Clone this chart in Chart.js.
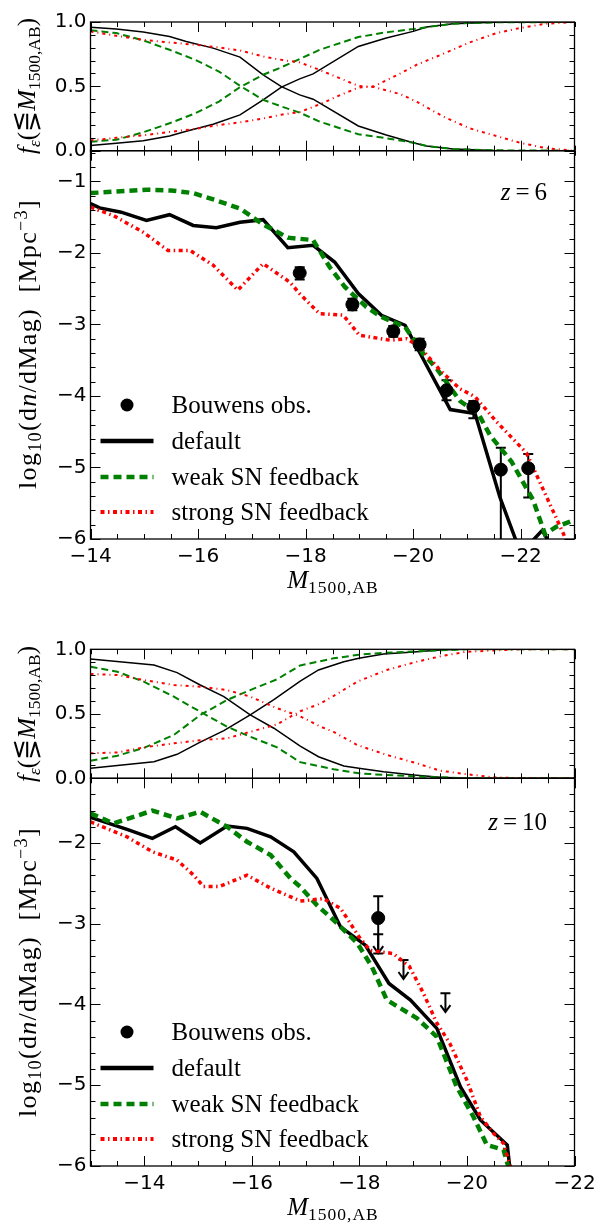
<!DOCTYPE html>
<html><head><meta charset="utf-8">
<script src="https://cdn.jsdelivr.net/npm/chart.js@4.4.0/dist/chart.umd.min.js"></script>
<style>
body{margin:0;background:#fff;width:602px;height:1224px;position:relative;overflow:hidden}
canvas{position:absolute;left:0}
.lbl{position:absolute;font-family:'Liberation Serif',serif;font-size:25px;white-space:nowrap;color:#000;line-height:1}
.rot{transform:translate(-50%,-50%) rotate(-90deg)}
.lbl sub{font-size:70%;vertical-align:-0.3em;line-height:0}
.lbl sup{font-size:70%;vertical-align:0.5em;line-height:0}
.wide{font-size:26px;letter-spacing:1.3px}
.xl sub{letter-spacing:1px}
</style></head><body>
<canvas id="p1" width="602" height="170" style="top:0px"></canvas>
<canvas id="p2" width="602" height="470" style="top:130px"></canvas>
<canvas id="p3" width="602" height="170" style="top:630px"></canvas>
<canvas id="p4" width="602" height="466" style="top:758px"></canvas>

<div class="lbl rot" style="left:26px;top:86px"><i>f</i><sub><i>ε</i></sub>(⋚<i>M</i><sub>1500,AB</sub>)</div>
<div class="lbl rot wide" style="left:28px;top:344px">log<sub>10</sub>(d<i>n</i>/dMag)&nbsp;&nbsp;[Mpc<sup>−3</sup>]</div>
<div class="lbl xl" style="left:333px;top:567px;transform:translateX(-50%)"><i>M</i><sub>1500,AB</sub></div>
<div class="lbl" style="right:55px;top:179px"><i>z</i>&thinsp;=&thinsp;6</div>

<div class="lbl rot" style="left:26px;top:714px"><i>f</i><sub><i>ε</i></sub>(⋚<i>M</i><sub>1500,AB</sub>)</div>
<div class="lbl rot wide" style="left:28px;top:972px">log<sub>10</sub>(d<i>n</i>/dMag)&nbsp;&nbsp;[Mpc<sup>−3</sup>]</div>
<div class="lbl xl" style="left:333px;top:1194px;transform:translateX(-50%)"><i>M</i><sub>1500,AB</sub></div>
<div class="lbl" style="right:55px;top:809px"><i>z</i>&thinsp;=&thinsp;10</div>

<script>
// ---------- tick labels ----------
const xTicksLF = [-14, -16, -18, -20, -22];
const xTickLabelsLF = ['−14', '−16', '−18', '−20', '−22'];
const yTicksLF = [-6, -5, -4, -3, -2, -1];
const yTickLabelsLF = ['−6', '−5', '−4', '−3', '−2', '−1'];
const yTicksFrac = [0, 0.5, 1];
const yTickLabelsFrac = ['0.0', '0.5', '1.0'];
const legendLabels = ['Bouwens obs.', 'default', 'weak SN feedback', 'strong SN feedback'];

// ---------- z = 6 luminosity function ----------
const mag6Def = [-14.0, -14.17, -14.57, -15.04, -15.47, -15.91, -16.34, -16.78, -17.21, -17.67, -18.14, -18.54, -18.98, -19.41, -19.85, -20.69, -21.15, -21.61, -22.0, -22.4, -22.8];
const def6 = [-1.31, -1.37, -1.43, -1.545, -1.465, -1.615, -1.647, -1.57, -1.535, -1.926, -1.894, -2.127, -2.569, -2.872, -3.011, -4.19, -4.245, -5.41, -6.2, -5.88, -6.4];
const mag6Weak = [-14.0, -15.04, -15.5, -15.91, -16.34, -16.78, -17.21, -17.67, -18.14, -18.45, -18.73, -19.13, -19.41, -19.85, -20.19, -20.44, -20.87, -21.21, -21.43, -21.83, -22.23, -22.45, -22.66, -23.0];
const weak6 = [-1.163, -1.116, -1.126, -1.163, -1.265, -1.38, -1.6, -1.786, -1.82, -2.2, -2.476, -2.755, -2.895, -3.035, -3.41, -3.62, -4.07, -4.245, -4.55, -4.92, -5.455, -5.93, -5.83, -5.735];
const mag6Str = [-14.0, -14.42, -14.98, -15.44, -15.85, -16.28, -16.74, -17.21, -17.71, -17.89, -18.26, -18.7, -19.0, -19.57, -19.88, -20.12, -20.5, -20.87, -21.15, -21.55, -22.11, -22.48, -22.79, -23.0];
const str6 = [-1.36, -1.475, -1.71, -1.965, -1.965, -2.17, -2.52, -2.15, -2.41, -2.57, -2.85, -2.87, -3.15, -3.22, -3.2, -3.31, -3.64, -3.9, -4.01, -4.36, -4.8, -5.41, -5.92, -6.3];
const obsMag6 = [-17.89, -18.87, -19.63, -20.12, -20.62, -21.12, -21.63, -22.14];
const obs6 = [-2.28, -2.72, -3.095, -3.28, -3.92, -4.15, -5.03, -5.01];
const obs6Lo = [-2.37, -2.80, -3.17, -3.36, -4.06, -4.31, -7.0, -5.42];
const obs6Hi = [-2.20, -2.64, -3.02, -3.20, -3.78, -4.07, -4.725, -4.81];

// ---------- z = 6 fractions ----------
const fmag6Def = [-14.0, -14.48, -14.98, -15.47, -15.78, -16.28, -16.78, -17.21, -17.55, -17.89, -18.14, -18.98, -19.5, -20.0, -20.25, -20.74, -21.5, -23.0];
const fDef6A = [0.96, 0.945, 0.922, 0.888, 0.849, 0.797, 0.727, 0.59, 0.498, 0.434, 0.40, 0.192, 0.122, 0.062, 0.037, 0.013, 0.002, 0.0];
const fDef6B = [0.04, 0.057, 0.078, 0.114, 0.151, 0.205, 0.278, 0.395, 0.494, 0.558, 0.597, 0.81, 0.875, 0.927, 0.961, 0.987, 0.998, 1.0];
const fmag6Weak = [-14.0, -14.48, -14.98, -15.47, -15.95, -16.39, -16.78, -17.21, -17.52, -17.89, -18.26, -18.98, -19.5, -20.0, -20.25, -20.74, -21.5, -23.0];
const fWeak6A = [0.935, 0.914, 0.857, 0.784, 0.706, 0.615, 0.504, 0.395, 0.348, 0.296, 0.226, 0.128, 0.097, 0.062, 0.037, 0.013, 0.003, 0.0];
const fWeak6B = [0.07, 0.085, 0.143, 0.213, 0.291, 0.382, 0.494, 0.59, 0.643, 0.712, 0.784, 0.883, 0.92, 0.945, 0.96, 0.987, 0.997, 1.0];
const fmag6Str = [-14.0, -14.48, -14.98, -15.47, -15.95, -16.39, -16.78, -17.21, -17.55, -17.89, -18.26, -18.63, -18.98, -19.27, -19.76, -20.06, -20.56, -21.05, -21.55, -21.98, -22.48, -23.0];
const fStr6A = [0.927, 0.893, 0.862, 0.841, 0.823, 0.802, 0.779, 0.732, 0.706, 0.686, 0.628, 0.564, 0.504, 0.494, 0.44, 0.382, 0.265, 0.174, 0.114, 0.062, 0.019, 0.0];
const fStr6B = [0.08, 0.10, 0.12, 0.145, 0.17, 0.2, 0.22, 0.25, 0.28, 0.30, 0.36, 0.43, 0.49, 0.5, 0.6, 0.667, 0.753, 0.841, 0.914, 0.953, 0.987, 1.0];

// ---------- z = 10 luminosity function ----------
const mag10Def = [-13.0, -13.68, -14.15, -14.58, -15.04, -15.54, -15.91, -16.35, -16.78, -17.21, -17.65, -18.11, -18.55, -18.95, -19.44, -19.88, -20.25, -20.75, -20.81];
const def10 = [-1.684, -1.833, -1.944, -1.80, -2.0, -1.79, -1.82, -1.925, -2.11, -2.44, -3.04, -3.265, -3.74, -3.945, -4.296, -5.02, -5.43, -5.74, -6.1];
const mag10Weak = [-13.0, -13.43, -14.15, -14.61, -15.04, -15.54, -15.91, -16.35, -16.72, -16.9, -17.21, -17.52, -17.96, -18.23, -18.51, -19.07, -19.44, -19.81, -20.12, -20.37, -20.68, -20.81];
const weak10 = [-1.635, -1.759, -1.60, -1.697, -1.615, -1.8, -1.986, -2.15, -2.44, -2.543, -2.77, -2.955, -3.24, -3.53, -3.945, -4.17, -4.4, -5.02, -5.39, -5.74, -5.80, -6.1];
const mag10Str = [-13.0, -13.68, -14.15, -14.61, -14.92, -15.1, -15.4, -15.91, -16.35, -16.9, -17.33, -17.65, -17.99, -18.2, -18.63, -18.93, -19.19, -19.44, -19.68, -20.0, -20.25, -20.5, -20.68, -20.85];
const str10 = [-1.74, -1.925, -2.11, -2.213, -2.40, -2.54, -2.54, -2.4, -2.56, -2.72, -2.69, -2.81, -3.16, -3.33, -3.37, -3.53, -3.86, -4.23, -4.48, -4.94, -5.39, -5.6, -5.72, -6.1];
const obsMag10 = [-18.35];
const obs10 = [-2.93];
const obs10Lo = [-3.37];
const obs10Hi = [-2.66];
const ulMag10 = [-18.35, -18.82, -19.6];
const ul10 = [-3.13, -3.45, -3.86];

// ---------- z = 10 fractions ----------
const fmag10Def = [-13.0, -14.18, -14.61, -15.04, -15.48, -15.97, -16.41, -16.9, -17.24, -17.71, -17.99, -18.45, -19.01, -19.5, -20.0, -22.0];
const fDef10A = [0.925, 0.878, 0.819, 0.723, 0.633, 0.491, 0.388, 0.25, 0.167, 0.095, 0.078, 0.051, 0.026, 0.008, 0.0, 0.0];
const fDef10B = [0.078, 0.129, 0.186, 0.28, 0.369, 0.491, 0.61, 0.754, 0.84, 0.904, 0.93, 0.963, 0.98, 0.995, 1.0, 1.0];
const fmag10Weak = [-13.0, -13.5, -13.99, -14.55, -15.04, -15.54, -15.97, -16.47, -16.9, -17.52, -17.99, -18.45, -19.01, -19.5, -20.0, -22.0];
const fWeak10A = [0.865, 0.826, 0.749, 0.633, 0.516, 0.40, 0.322, 0.24, 0.125, 0.07, 0.039, 0.026, 0.016, 0.008, 0.0, 0.0];
const fWeak10B = [0.136, 0.175, 0.235, 0.336, 0.49, 0.607, 0.684, 0.768, 0.875, 0.93, 0.958, 0.972, 0.983, 0.992, 1.0, 1.0];
const fmag10Str = [-13.0, -13.5, -13.99, -14.55, -15.04, -15.54, -15.97, -16.47, -16.9, -17.28, -17.52, -17.96, -18.51, -19.07, -19.5, -19.97, -20.48, -21.0, -22.0];
const fStr10A = [0.809, 0.80, 0.762, 0.723, 0.71, 0.684, 0.633, 0.543, 0.48, 0.40, 0.36, 0.258, 0.181, 0.116, 0.059, 0.033, 0.008, 0.0, 0.0];
const fStr10B = [0.194, 0.2, 0.24, 0.271, 0.295, 0.31, 0.36, 0.418, 0.52, 0.58, 0.638, 0.749, 0.84, 0.904, 0.945, 0.98, 0.99, 1.0, 1.0];

// ---------- helpers ----------
const pts = (xs, ys) => xs.map((x, i) => ({x: x, y: ys[i]}));
const TICKFONT = {family: 'DejaVu Sans', size: 20};
const GREEN = '#008000', RED = '#ff0000';

const framePlugin = {
  id: 'frame',
  afterDatasetsDraw(chart, args, o) {
    if (!o || !o.xMajor) return;
    const {ctx, chartArea: a, scales: {x, y}} = chart;
    const near = (v, arr) => arr.some(m => Math.abs(m - v) < 1e-6);
    ctx.save();
    ctx.strokeStyle = '#000';
    ctx.lineWidth = 1;
    ctx.beginPath();
    let n0 = Math.ceil(x.min / o.xStep - 1e-6), n1 = Math.floor(x.max / o.xStep + 1e-6);
    for (let k = n0; k <= n1; k++) {
      const v = k * o.xStep;
      const px = Math.round(x.getPixelForValue(v)) + 0.5;
      const L = near(v, o.xMajor) ? 10 : 5;
      ctx.moveTo(px, a.bottom); ctx.lineTo(px, a.bottom - L);
      ctx.moveTo(px, a.top); ctx.lineTo(px, a.top + L);
    }
    n0 = Math.ceil(y.min / o.yStep - 1e-6); n1 = Math.floor(y.max / o.yStep + 1e-6);
    for (let k = n0; k <= n1; k++) {
      const v = k * o.yStep;
      const py = Math.round(y.getPixelForValue(v)) + 0.5;
      const L = near(v, o.yMajor) ? 10 : 5;
      ctx.moveTo(a.left, py); ctx.lineTo(a.left + L, py);
      ctx.moveTo(a.right, py); ctx.lineTo(a.right - L, py);
    }
    ctx.stroke();
    ctx.lineWidth = 1.3;
    ctx.strokeRect(a.left, a.top, a.right - a.left, a.bottom - a.top);
    ctx.restore();
  }
};

const errPlugin = {
  id: 'errbars',
  beforeDatasetsDraw(chart) {
    const {ctx, chartArea: a, scales: {x, y}} = chart;
    ctx.save();
    ctx.beginPath(); ctx.rect(a.left, a.top, a.right - a.left, a.bottom - a.top); ctx.clip();
    ctx.strokeStyle = '#000'; ctx.lineWidth = 2;
    chart.data.datasets.forEach(ds => {
      if (ds.errLo) {
        ds.data.forEach((p, i) => {
          const px = x.getPixelForValue(p.x);
          const y1 = y.getPixelForValue(ds.errLo[i]), y2 = y.getPixelForValue(ds.errHi[i]);
          ctx.beginPath();
          ctx.moveTo(px, y1); ctx.lineTo(px, y2);
          ctx.moveTo(px - 5, y1); ctx.lineTo(px + 5, y1);
          ctx.moveTo(px - 5, y2); ctx.lineTo(px + 5, y2);
          ctx.stroke();
        });
      }
      if (ds.upperLimit) {
        ds.data.forEach(p => {
          const px = x.getPixelForValue(p.x), py = y.getPixelForValue(p.y);
          const tip = py + 19;
          ctx.beginPath();
          ctx.moveTo(px - 5, py); ctx.lineTo(px + 5, py);
          ctx.moveTo(px, py); ctx.lineTo(px, tip);
          ctx.moveTo(px - 5, tip - 7); ctx.lineTo(px, tip); ctx.lineTo(px + 5, tip - 7);
          ctx.stroke();
        });
      }
    });
    ctx.restore();
  }
};

const legendPlugin = {
  id: 'lfLegend',
  afterDraw(chart, args, o) {
    if (!o || !o.show) return;
    const {ctx, chartArea: a} = chart;
    const rows = [-134, -98, -62, -27];
    const x0 = a.left + 10, x1 = a.left + 63, xt = a.left + 81;
    ctx.save();
    ctx.fillStyle = '#000';
    ctx.beginPath(); ctx.arc((x0 + x1) / 2, a.bottom + rows[0], 6.5, 0, Math.PI * 2); ctx.fill();
    const styles = [
      {c: '#000', w: 4.5, d: []},
      {c: GREEN, w: 4.5, d: [8, 5]},
      {c: RED, w: 4, d: [4, 3.5, 1.5, 3.5]}
    ];
    styles.forEach((s, i) => {
      const yy = a.bottom + rows[i + 1];
      ctx.strokeStyle = s.c; ctx.lineWidth = s.w; ctx.setLineDash(s.d); ctx.lineCap = 'butt';
      ctx.beginPath(); ctx.moveTo(x0, yy); ctx.lineTo(x1, yy); ctx.stroke();
    });
    ctx.setLineDash([]);
    ctx.font = '25px "Liberation Serif"';
    ctx.textBaseline = 'middle';
    ctx.fillStyle = '#000';
    legendLabels.forEach((t, i) => ctx.fillText(t, xt, a.bottom + rows[i] + 1));
    ctx.restore();
  }
};

Chart.register(framePlugin, errPlugin, legendPlugin);

function tickSetter(ticks) {
  return s => {
    s.ticks = ticks.filter(v => v >= s.min - 1e-9 && v <= s.max + 1e-9).map(v => ({value: v}));
  };
}
function labelFor(ticks, labels) {
  return v => { const i = ticks.findIndex(t => Math.abs(t - v) < 1e-9); return i >= 0 ? labels[i] : ''; };
}
function xScale(min, max, ticks, labels, show, h) {
  return {
    type: 'linear', min: min, max: max, reverse: true, display: show,
    grid: {display: false, drawTicks: false}, border: {display: false},
    ticks: {font: TICKFONT, color: '#000', padding: 6, maxRotation: 0, autoSkip: false,
      callback: labelFor(ticks, labels)},
    afterBuildTicks: tickSetter(ticks),
    afterFit: s => { s.height = h; }
  };
}
function yScale(min, max, ticks, labels) {
  return {
    type: 'linear', min: min, max: max,
    grid: {display: false, drawTicks: false}, border: {display: false},
    ticks: {font: TICKFONT, color: '#000', padding: 4, autoSkip: false,
      callback: labelFor(ticks, labels)},
    afterBuildTicks: tickSetter(ticks),
    afterFit: s => { s.width = 90.5; }
  };
}
function line(data, color, width, dash) {
  return {data: data, showLine: true, borderColor: color, backgroundColor: color,
    borderWidth: width, borderDash: dash, pointRadius: 0, fill: false, clip: 0, tension: 0};
}
function makeChart(id, datasets, scales, padding, frame, legend) {
  return new Chart(document.getElementById(id), {
    type: 'scatter',
    data: {datasets: datasets},
    options: {
      responsive: false, animation: false, events: [],
      layout: {padding: padding},
      scales: scales,
      plugins: {legend: {display: false}, tooltip: {enabled: false},
        frame: frame, lfLegend: {show: legend}}
    }
  });
}

// Panel 1: fractions z=6
makeChart('p1', [
  line(pts(fmag6Str, fStr6A), RED, 2, [3, 4, 1, 4]),
  line(pts(fmag6Str, fStr6B), RED, 2, [3, 4, 1, 4]),
  line(pts(fmag6Weak, fWeak6A), GREEN, 2, [7, 4]),
  line(pts(fmag6Weak, fWeak6B), GREEN, 2, [7, 4]),
  line(pts(fmag6Def, fDef6A), '#000', 1.5, []),
  line(pts(fmag6Def, fDef6B), '#000', 1.5, [])
], {
  x: xScale(-23, -14, xTicksLF, xTickLabelsLF, false, 0),
  y: yScale(0, 1, yTicksFrac, yTickLabelsFrac)
}, {left: 0, right: 27.5, top: 22, bottom: 19.3},
  {xMajor: xTicksLF, xStep: 0.5, yMajor: yTicksFrac, yStep: 0.1}, false);

// Panel 2: LF z=6
makeChart('p2', [
  {data: pts(obsMag6, obs6), showLine: false, pointRadius: 6.5, backgroundColor: '#000', borderColor: '#000',
   errLo: obs6Lo, errHi: obs6Hi},
  line(pts(mag6Str, str6), RED, 3.5, [4, 3.5, 1.5, 3.5]),
  line(pts(mag6Weak, weak6), GREEN, 4.5, [8, 5]),
  line(pts(mag6Def, def6), '#000', 3.5, [])
], {
  x: xScale(-23, -14, xTicksLF, xTickLabelsLF, true, 61),
  y: yScale(-6, -0.57, yTicksLF, yTickLabelsLF)
}, {left: 0, right: 27.5, top: 20.7, bottom: 0},
  {xMajor: xTicksLF, xStep: 0.5, yMajor: yTicksLF, yStep: 0.2}, true);

// Panel 3: fractions z=10
makeChart('p3', [
  line(pts(fmag10Str, fStr10A), RED, 2, [3, 4, 1, 4]),
  line(pts(fmag10Str, fStr10B), RED, 2, [3, 4, 1, 4]),
  line(pts(fmag10Weak, fWeak10A), GREEN, 2, [7, 4]),
  line(pts(fmag10Weak, fWeak10B), GREEN, 2, [7, 4]),
  line(pts(fmag10Def, fDef10A), '#000', 1.5, []),
  line(pts(fmag10Def, fDef10B), '#000', 1.5, [])
], {
  x: xScale(-22, -13, xTicksLF, xTickLabelsLF, false, 0),
  y: yScale(0, 1, yTicksFrac, yTickLabelsFrac)
}, {left: 0, right: 27.5, top: 19.3, bottom: 21.7},
  {xMajor: xTicksLF, xStep: 0.5, yMajor: yTicksFrac, yStep: 0.1}, false);

// Panel 4: LF z=10
makeChart('p4', [
  {data: pts(obsMag10, obs10), showLine: false, pointRadius: 6.5, backgroundColor: '#000', borderColor: '#000',
   errLo: obs10Lo, errHi: obs10Hi},
  {data: pts(ulMag10, ul10), showLine: false, pointRadius: 0, upperLimit: true},
  line(pts(mag10Str, str10), RED, 3.5, [4, 3.5, 1.5, 3.5]),
  line(pts(mag10Weak, weak10), GREEN, 4.5, [8, 5]),
  line(pts(mag10Def, def10), '#000', 3.5, [])
], {
  x: xScale(-22, -13, xTicksLF, xTickLabelsLF, true, 58),
  y: yScale(-6, -1.2, yTicksLF, yTickLabelsLF)
}, {left: 0, right: 27.5, top: 20.3, bottom: 0},
  {xMajor: xTicksLF, xStep: 0.5, yMajor: yTicksLF, yStep: 0.2}, true);
</script>
</body></html>
